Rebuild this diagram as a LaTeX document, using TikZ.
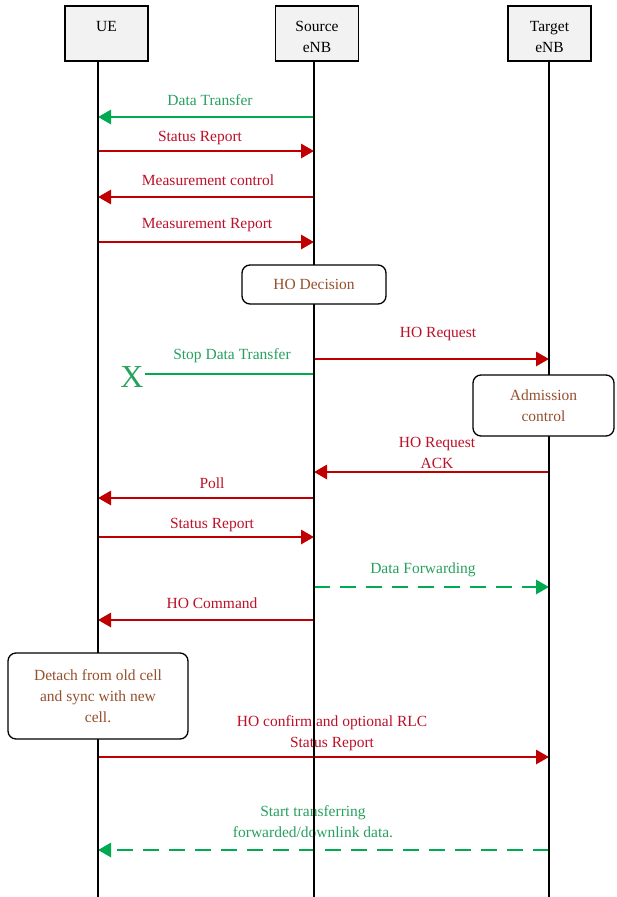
\documentclass[tikz,border=0pt]{standalone}
\usepackage{fontspec}
\setmainfont{Liberation Serif}
\usetikzlibrary{arrows.meta}

\definecolor{msgred}{RGB}{192,0,0}
\definecolor{txtred}{RGB}{188,16,40}
\definecolor{msggreen}{RGB}{0,170,80}
\definecolor{txtgreen}{RGB}{40,160,95}
\definecolor{txtbrown}{RGB}{150,80,45}
\definecolor{actorfill}{RGB}{242,242,242}

\def\xue{98}
\def\xsrc{314}
\def\xtgt{549}
\def\ybottom{897}

\begin{document}
\begin{tikzpicture}[x=1pt,y=-1pt]
		\tikzstyle{every node}=[font=\fontsize{15.5}{21}\selectfont]
		\tikzstyle{actor}=[draw=black,line width=1.3pt,fill=actorfill,minimum width=83pt,minimum height=55pt,align=center,inner sep=2pt]
		\tikzstyle{lifeline}=[draw=black,line width=1.3pt]
		\tikzstyle{redmsg}=[draw=msgred,line width=2.9pt,-{Triangle[length=13pt,width=14pt]}]
		\tikzstyle{greenline}=[draw=msggreen,line width=2.9pt]
		\tikzstyle{greenmsg}=[greenline,-{Triangle[length=13pt,width=14pt]}]
		\tikzstyle{fwdmsg}=[greenmsg,dash pattern=on 16pt off 10pt]
		\tikzstyle{redlbl}=[text=txtred,align=center]
		\tikzstyle{greenlbl}=[text=txtgreen,align=center]
		\tikzstyle{procbox}=[draw=black,line width=1.3pt,fill=white,rounded corners=8pt,text=txtbrown,align=center]

		\useasboundingbox (0,0) rectangle (616,\ybottom);

			% Draw the three actors at the top
		\node[actor] (ue) at (106.5,33.5) {\rule{0pt}{17pt}UE\\~};
		\node[actor] (src) at (317,33.5) {\rule{0pt}{17pt}Source\\eNB};
		\node[actor] (tgt) at (549.5,33.5) {\rule{0pt}{17pt}Target\\eNB};

			% One point on each lifeline for every message
		\foreach \msg / \y in {dt/117,sr1/151,mc/197,mr/242,hoq/359,sdt/374,ack/472,poll/498,sr2/537,fwd/587,cmd/620,conf/757,start/850}
		{\coordinate (ue-\msg) at (\xue,\y);
		 \coordinate (src-\msg) at (\xsrc,\y);
		 \coordinate (tgt-\msg) at (\xtgt,\y);}
		\foreach \who / \x in {ue/\xue,src/\xsrc,tgt/\xtgt}
		\coordinate (\who-end) at (\x,\ybottom);

			% Messages before the handover decision
		\draw[greenmsg] (src-dt) -- (ue-dt);
		\node[greenlbl] (l-dt) at (210,100) {Data Transfer};
		\draw[redmsg] (ue-sr1) -- (src-sr1);
		\node[redlbl] (l-sr1) at (200,138) {Status Report};
		\draw[redmsg] (src-mc) -- (ue-mc);
		\node[redlbl] (l-mc) at (208,180) {Measurement control};
		\draw[redmsg] (ue-mr) -- (src-mr);
		\node[redlbl] (l-mr) at (207,225) {Measurement Report};

			% Handover preparation
		\draw[redmsg] (src-hoq) -- (tgt-hoq);
		\node[redlbl] (l-hoq) at (438,334) {HO Request};
		\node[text=txtgreen,font=\fontsize{32}{32}\selectfont,inner sep=1pt] (xmark) at (132,377) {X};
		\draw[greenline] (src-sdt) -- (xmark.east |- src-sdt);
		\node[greenlbl] (l-sdt) at (232,356) {Stop Data Transfer};
		\draw[redmsg] (tgt-ack) -- (src-ack);
		\node[redlbl] (l-ack) at (437,453) {HO Request\\ACK};
		\draw[redmsg] (src-poll) -- (ue-poll);
		\node[redlbl] (l-poll) at (212,483) {Poll};
		\draw[redmsg] (ue-sr2) -- (src-sr2);
		\node[redlbl] (l-sr2) at (212,525) {Status Report};
		\draw[fwdmsg] (src-fwd) -- (tgt-fwd);
		\node[greenlbl] (l-fwd) at (423,570) {Data Forwarding};
		\draw[redmsg] (src-cmd) -- (ue-cmd);
		\node[redlbl] (l-cmd) at (212,603) {HO Command};

			% Handover completion
		\draw[redmsg] (ue-conf) -- (tgt-conf);
		\node[redlbl] (l-conf) at (332,733) {HO confirm and optional RLC\\Status Report};
		\draw[fwdmsg] (tgt-start) -- (ue-start);
		\node[greenlbl] (l-start) at (313,822) {Start transferring\\forwarded/downlink data.};

			% Lifelines go over the messages
		\foreach \who in {ue,src,tgt}
		\draw[lifeline] (\who.south -| \who-end) -- (\who-end);

			% Boxes sit on the lifelines
		\node[procbox,minimum width=144pt,minimum height=39pt] (hodec) at (314,284.5) {HO Decision};
		\node[procbox,minimum width=141pt,minimum height=61pt] (admit) at (543.5,405.5) {Admission\\control};
		\node[procbox,minimum width=180pt,minimum height=86pt] (detach) at (98,696) {Detach from old cell\\and sync with new\\cell.};
		\end{tikzpicture}
\end{document}
